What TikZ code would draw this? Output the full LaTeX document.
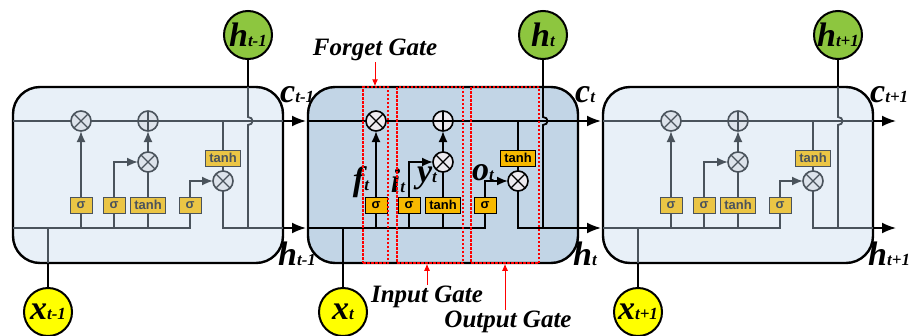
\documentclass[tikz,border=0pt]{standalone}
\usepackage{fontspec}
\setmainfont{Liberation Serif}
\newfontfamily\gatefont{Liberation Sans}
\usetikzlibrary{arrows.meta}

\definecolor{sidebg}{HTML}{E8F0F8}
\definecolor{midbg}{HTML}{C2D5E6}
\definecolor{sidegray}{HTML}{4A535C}
\definecolor{sidegate}{HTML}{EBC545}
\definecolor{midgate}{HTML}{F7B900}
\definecolor{sideop}{HTML}{DDE3EB}
\definecolor{midop}{HTML}{EDEBF0}
\definecolor{hgreen}{HTML}{8DC63F}
\definecolor{xyellow}{HTML}{FFFF00}

\newcommand{\lab}[2]{{\bfseries\itshape\fontsize{34}{34}\selectfont #1}{\bfseries\itshape\fontsize{17}{17}\selectfont #2}}

\begin{document}
\begin{tikzpicture}[x=1pt, y=-1pt, >={Latex[length=11pt, width=9pt]},
    cellbox/.style={draw=black, line width=2.4pt, rounded corners=27pt},
    wire/.style={line width=1.8pt, draw=#1},
    bigarrow/.style={line width=1.8pt, draw=black, -{Latex[length=14pt, width=11pt]}},
    gate/.style={draw=#1, text=#1, line width=1pt, inner xsep=4pt, inner ysep=1pt,
        minimum width=22pt, minimum height=16pt, font=\gatefont\bfseries\fontsize{13}{13}\selectfont},
    op/.style={circle, draw=#1, line width=1.6pt, minimum size=20pt, inner sep=0pt, outer sep=0pt},
    mult/.style={op=#1, path picture={\draw[line width=1.3pt, draw=#1]
        (path picture bounding box.north west) -- (path picture bounding box.south east)
        (path picture bounding box.north east) -- (path picture bounding box.south west);}},
    plus/.style={op=#1, path picture={\draw[line width=1.3pt, draw=#1]
        (path picture bounding box.north) -- (path picture bounding box.south)
        (path picture bounding box.west) -- (path picture bounding box.east);}},
    io/.style={circle, draw=black, line width=2pt, minimum size=48pt, inner sep=0pt, fill=#1},
    lbl/.style={inner sep=1pt},
    gatelbl/.style={inner sep=1pt, font=\bfseries\itshape\fontsize{25}{25}\selectfont},
    gatebox/.style={draw=red, line width=1.5pt, dash pattern=on 2.5pt off 1.5pt,
        minimum width=#1, minimum height=176pt, inner sep=0pt},
    redarrow/.style={draw=red, line width=1pt, -{Latex[length=7pt, width=6pt]}}
]
\useasboundingbox (0,0) rectangle (916,335);

% 1. The three cells
\foreach \cid/\X/\sub/\bg/\lc/\gf/\of in {L/13/t-1/sidebg/sidegray/sidegate/sideop,
        M/308/t/midbg/black/midgate/midop, R/603/t+1/sidebg/sidegray/sidegate/sideop} {
    \draw[cellbox, fill=\bg] (\X,87) rectangle (\X+270,263);

    % points on the cell line and the hidden line
    \coordinate (cin\cid) at (\X,121);
    \coordinate (cedge\cid) at (\X+270,121);
    \coordinate (cout\cid) at (\X+293,121);
    \coordinate (hin\cid) at (\X,228);
    \coordinate (hedge\cid) at (\X+270,228);
    \coordinate (hout\cid) at (\X+293,228);
    \coordinate (hv\cid) at (\X+235,228);
    \coordinate (hop1\cid) at (\X+235,125);
    \coordinate (hop2\cid) at (\X+235,117);
    \coordinate (htop\cid) at (\X+235,87);
    \coordinate (xbot\cid) at (\X+35,263);

    % operators and gates
    \node[mult=\lc, fill=\of] (fm\cid) at (\X+68,121) {};
    \node[plus=\lc, fill=\of] (pl\cid) at (\X+135,121) {};
    \node[mult=\lc, fill=\of] (im\cid) at (\X+135,162) {};
    \node[gate=\lc, fill=\gf] (s1\cid) at (\X+68,205) {σ};
    \node[gate=\lc, fill=\gf] (s2\cid) at (\X+101,205) {σ};
    \node[gate=\lc, fill=\gf] (tn\cid) at (\X+135,205) {tanh};
    \node[gate=\lc, fill=\gf] (s3\cid) at (\X+177,205) {σ};
    \node[gate=\lc, fill=\gf] (ot\cid) at (\X+210,158) {tanh};
    \node[mult=\lc, fill=\of] (om\cid) at (\X+210,181) {};

    % inputs, outputs and their labels
    \node[io=hgreen] (h\cid) at (\X+235,35) {\makebox[0pt]{\lab{h}{\sub}}};
    \node[io=xyellow] (x\cid) at (\X+35,312) {\makebox[0pt]{\lab{x}{\sub}}};
    \node[lbl, anchor=west] (cl\cid) at (\X+266,95) {\lab{c}{\sub}};
    \node[lbl, anchor=west] (hl\cid) at (\X+264,254) {\lab{h}{\sub}};

    % cell line
    \draw[wire=\lc] (cin\cid) -- (fm\cid.west) (fm\cid.east) -- (pl\cid.west);
    \draw[wire=\lc] (pl\cid.east) -- (cedge\cid);
    \draw[bigarrow] (cedge\cid) -- (cout\cid);
    \draw[wire=\lc] (ot\cid.north) -- (ot\cid.north |- cin\cid);

    % hidden line and gate inputs
    \draw[wire=\lc] (hin\cid) -| (s3\cid.south);
    \draw[wire=\lc] (s1\cid.south) -- (s1\cid.south |- hin\cid);
    \draw[wire=\lc] (s2\cid.south) -- (s2\cid.south |- hin\cid);
    \draw[wire=\lc] (tn\cid.south) -- (tn\cid.south |- hin\cid);
    \draw[wire=black] (x\cid.north) -- (xbot\cid);
    \draw[wire=\lc] (xbot\cid) -- (xbot\cid |- hin\cid);

    % gate outputs
    \draw[wire=\lc, ->] (s1\cid.north) -- (fm\cid.south);
    \draw[wire=\lc, ->] (s2\cid.north) |- (im\cid.west);
    \draw[wire=\lc] (tn\cid.north) -- (im\cid.south);
    \draw[wire=\lc, ->] (im\cid.north) -- (pl\cid.south);
    \draw[wire=\lc, ->] (s3\cid.north) |- (om\cid.west);
    \draw[wire=\lc] (ot\cid.south) -- (om\cid.north);
    \draw[wire=\lc] (om\cid.south) |- (hedge\cid);
    \draw[bigarrow] (hedge\cid) -- (hout\cid);

    % hidden output, hopping over the cell line
    \draw[wire=\lc] (hv\cid) -- (hop1\cid) .. controls +(6,0) and +(6,0) .. (hop2\cid) -- (htop\cid);
    \draw[wire=black] (htop\cid) -- (h\cid.south);
}

% 2. Gate names in the middle cell
\node[lbl] (ft) at (361,182) {\lab{f}{t}};
\node[lbl] (it) at (398,181) {\lab{i}{t}};
\node[lbl] (yt) at (427,178) {\lab{y}{t}};
\node[lbl] (ot) at (483,173) {\lab{o}{t}};

% 3. Gate regions
\node[gatebox=25pt] (fg) at (375.5,175) {};
\node[gatebox=66pt] (ig) at (430,175) {};
\node[gatebox=68pt] (og) at (505,175) {};

\node[gatelbl] (fgl) at (375,50) {Forget Gate};
\node[gatelbl] (igl) at (427,297) {Input Gate};
\node[gatelbl] (ogl) at (508,322) {Output Gate};

\draw[redarrow] (fgl.south) -- (fgl.south |- fg.north);
\draw[redarrow] (igl.north) -- (igl.north |- ig.south);
\draw[redarrow] (ogl.north -| og.south) -- (og.south);

\end{tikzpicture}
\end{document}
